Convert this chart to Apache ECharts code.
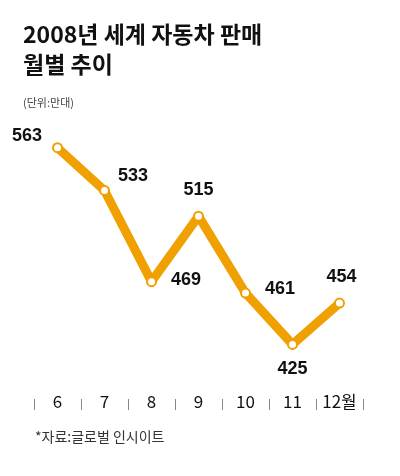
<!DOCTYPE html>
<html>
<head>
<meta charset="utf-8">
<script src="https://cdn.jsdelivr.net/npm/echarts@6/dist/echarts.min.js"></script>
<style>html,body{margin:0;padding:0;background:#fff}#main{width:400px;height:476px}</style>
</head>
<body>
<div id="main"></div>
<script>
var months = ['6', '7', '8', '9', '10', '11', '12월'];
var sales = [563, 533, 469, 515, 461, 425, 454];
var labelPos = ['left', 'right', 'right', 'top', 'right', 'bottom', 'top'];
var labelOffset = [[-2, -12], [0, -14], [6, -2], [0, -4], [6, -4], [0, 2], [2, -4]];

var chart = echarts.init(document.getElementById('main'));
var font = '"Noto Sans CJK KR", sans-serif';

chart.setOption({
    animation: false,
    textStyle: { fontFamily: font },
    title: [{
        text: '2008년 세계 자동차 판매\n월별 추이',
        left: 18, top: 14,
        textStyle: { fontSize: 23, fontWeight: 'bold', color: '#111', lineHeight: 30, fontFamily: font }
    }, {
        text: '(단위:만대)',
        left: 18, top: 92,
        textStyle: { fontSize: 11, fontWeight: 'normal', color: '#444', fontFamily: font }
    }, {
        text: '*자료:글로벌 인시이트',
        left: 30, top: 425,
        textStyle: { fontSize: 14, fontWeight: 'normal', color: '#333', fontFamily: font }
    }],
    grid: { left: 34, right: 37, top: 95, bottom: 96 },
    xAxis: {
        type: 'category',
        data: months,
        boundaryGap: true,
        offset: 30,
        axisLine: { show: false },
        axisTick: { show: true, inside: true, length: 11, lineStyle: { color: '#888' } },
        axisLabel: { inside: true, margin: 0, fontSize: 17, color: '#111', verticalAlign: 'bottom', fontFamily: font }
    },
    yAxis: { type: 'value', min: 400, max: 600, show: false },
    series: [{
        type: 'line',
        data: sales.map(function (v, i) {
            return { value: v, label: { position: labelPos[i], offset: labelOffset[i] } };
        }),
        lineStyle: { color: '#f0a000', width: 9, join: 'round', cap: 'round' },
        symbol: 'circle',
        symbolSize: 9,
        itemStyle: { color: '#fff', borderColor: '#f0a000', borderWidth: 2 },
        label: { show: true, fontSize: 18, fontWeight: 'bold', color: '#111', distance: 8, fontFamily: '"Liberation Sans", Arial, sans-serif' }
    }]
});
</script>
</body>
</html>
